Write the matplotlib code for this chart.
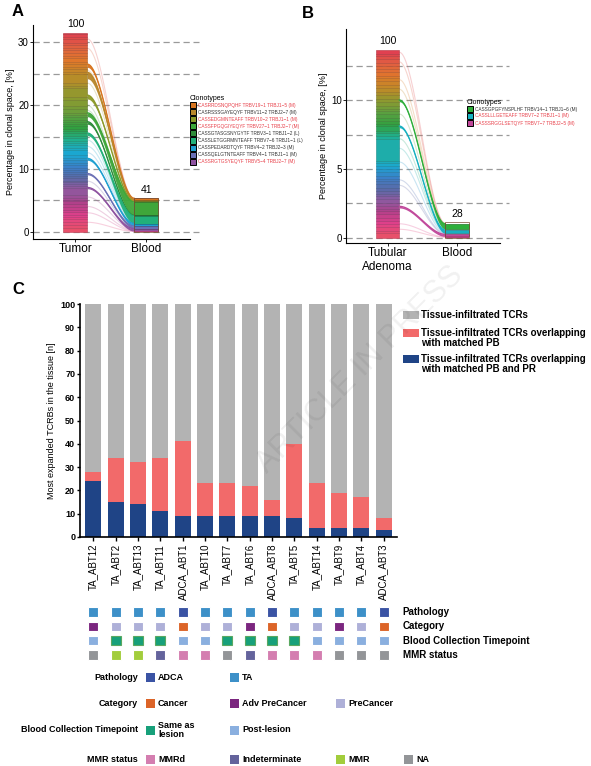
import numpy as np
import matplotlib
matplotlib.use("Agg")
import matplotlib.pyplot as plt
from matplotlib.patches import Rectangle
from matplotlib.colors import LinearSegmentedColormap

plt.rcParams['font.family'] = ['Liberation Sans', 'DejaVu Sans']

W, H = 591, 766
fig = plt.figure(figsize=(W/100, H/100), dpi=100)

def ax_px(l, t, r, b):
    return fig.add_axes([l/W, 1-b/H, (r-l)/W, (b-t)/H])

# ---------------- data ----------------
segA = [0.6,0.5,0.4,0.5,0.3,0.4,0.5,0.3,0.4,0.5,0.4,0.3,0.3,0.4,1.2,0.3,0.3,0.2,0.3,0.4,0.3,0.4,0.3,0.2,0.4,0.5,
        0.3,0.4,0.3,0.5,0.9,0.3,0.4,0.3,0.4,0.5,0.3,0.4,0.3,0.3,0.5,0.4,0.3,0.3,0.4,0.3,0.4,0.6,0.5,1.0,0.4,1.4,0.3,
        0.6,1.4,0.3,0.4,0.3,0.5,0.4,0.6,0.3,0.5,0.4,0.3,0.5,0.4,0.6,0.3,0.4,0.3]
bloodA_total = 5.3
cloneA_name = ["CASRRDSNQPQHF TRBV19\u22121 TRBJ1\u22125 (M)", "CASRSSSGAYEQYF TRBV11\u22122 TRBJ2\u22127 (M)",
               "CASSEDGMNTEAFF TRBV10\u22122 TRBJ1\u22121 (M)", "CASSFPGQGIYEQYF TRBV27\u22121 TRBJ2\u22127 (M)",
               "CASSGTASGSNYGYTF TRBV3\u22121 TRBJ1\u22122 (L)", "CASSLETGGRMNTEAFF TRBV7\u22126 TRBJ1\u22121 (L)",
               "CASSPEDARDTQYF TRBV4\u22122 TRBJ2\u22123 (M)", "CASSQELGTNTEAFF TRBV4\u22121 TRBJ1\u22121 (M)",
               "CASSRGTGSYEQYF TRBV5\u22124 TRBJ2\u22127 (M)"]
cloneA_red = [True, False, True, True, False, False, False, False, True]
cloneA_t0 = [26.0, 24.2, 21.0, 18.2, 17.0, 15.2, 11.3, 9.0, 6.8]
cloneA_th = [0.5, 1.0, 0.6, 0.6, 0.4, 0.4, 0.3, 0.2, 0.2]
cloneA_b0 = [5.1, 4.8, 4.7, 2.6, 2.5, 1.3, 0.9, 0.5, 0.1]
cloneA_bh = [0.2, 0.3, 0.1, 2.1, 0.1, 1.2, 0.4, 0.4, 0.4]
cloneA_col = ["#d8741f", "#b8862a", "#8c9a2a", "#3fa63a", "#2e8b3a", "#22b07a", "#1e9fd0", "#6a6fb5", "#8e52a0"]
faintA_t = [30.5, 29.0, 25.5, 23.5, 20.0, 19.2, 14.5, 13.5, 12.5, 8.0, 5.5, 4.0, 3.0, 1.5]
faintA_b = [5.25, 5.2, 5.0, 4.75, 3.5, 3.0, 2.0, 1.8, 1.5, 0.8, 0.3, 0.2, 0.1, 0.05]

segB = [0.3,0.2,0.3,0.2,0.2,0.2,0.3,0.2,0.2,0.2,0.2,0.3,0.2,0.2,0.2,0.2,0.3,0.2,0.2,0.2,0.3,0.2,0.2,0.2,0.2,
        1.6,0.2,0.2,0.2,0.3,0.2,0.2,0.2,0.3,0.2,0.2,0.2,0.3,0.2,0.3,0.2,0.3,0.2,0.3,0.2,0.2,0.3,0.2,0.2,0.2,0.3,0.2,0.2,0.3]
bloodB_total = 1.1
cloneB_name = ["CASSGPGFYNSPLHF TRBV14\u22121 TRBJ1\u22126 (M)", "CASSLLLGETEAFF TRBV7\u22122 TRBJ1\u22121 (M)",
               "CASSSRGGLSETQYF TRBV7\u22127 TRBJ2\u22125 (M)"]
cloneB_red = [False, True, True]
cloneB_t0 = [9.9, 8.0, 2.15]
cloneB_th = [0.12, 0.12, 0.12]
cloneB_b0 = [0.6, 0.3, 0.08]
cloneB_bh = [0.4, 0.25, 0.15]
cloneB_col = ["#2fae3a", "#17b0c0", "#c0479a"]
faintB_t = [13.5, 12.8, 11.5, 10.8, 9.0, 7.2, 6.5, 5.5, 4.2, 3.8, 1.0, 0.6]
faintB_b = [1.05, 1.0, 0.95, 0.9, 0.7, 0.5, 0.45, 0.35, 0.3, 0.25, 0.05, 0.02]

samples = ["TA_ABT12","TA_ABT2","TA_ABT13","TA_ABT11","ADCA_ABT1","TA_ABT10","TA_ABT7","TA_ABT6",
           "ADCA_ABT8","TA_ABT5","TA_ABT14","TA_ABT9","TA_ABT4","ADCA_ABT3"]
pb_pr = [24, 15, 14, 11, 9, 9, 9, 9, 9, 8, 4, 4, 4, 3]
pb_total = [28, 34, 32, 34, 41, 23, 23, 22, 16, 40, 23, 19, 17, 8]
pathology = ["TA","TA","TA","TA","ADCA","TA","TA","TA","ADCA","TA","TA","TA","TA","ADCA"]
category = ["Adv PreCancer","PreCancer","PreCancer","PreCancer","Cancer","PreCancer","PreCancer","Adv PreCancer",
            "Cancer","PreCancer","PreCancer","Adv PreCancer","PreCancer","Cancer"]
blood_tp = ["Post","Same","Same","Same","Post","Post","Same","Same","Same","Same","Post","Post","Post","Post"]
mmr = ["NA","MMR","MMR","Indeterminate","MMRd","MMRd","NA","Indeterminate","MMRd","MMRd","MMRd","NA","NA","NA"]

pal_path = {"ADCA": "#3a53a4", "TA": "#3d90c8"}
pal_cat = {"Cancer": "#dc6428", "Adv PreCancer": "#7b267f", "PreCancer": "#aeb0d8"}
pal_blood = {"Same": "#17a07a", "Post": "#8aafdf"}
pal_mmr = {"MMRd": "#d47eb0", "Indeterminate": "#64639c", "MMR": "#a2cd3c", "NA": "#939598"}

cmap = LinearSegmentedColormap.from_list("clon", ["#e8506a", "#e0408a", "#b0408a", "#8c5aa0", "#5a6aa8", "#3a80c8",
                                                 "#1aa8d0", "#20b090", "#30a040", "#5aa040", "#8a9a30", "#c08a28",
                                                 "#e0782a", "#e06040", "#e04050"])

def smooth(n=60):
    s = np.linspace(0, 1, n)
    return s, s*s*(3-2*s)

def alluvial(ax, seg, blood_total, t0s, ths, b0s, bhs, cols, ft, fb, gridvals, ticks, ymax, lab1, top1, top2):
    bw = 0.34
    for g in gridvals:
        ax.plot([-0.6, 1.75], [g, g], ls=(0, (5, 3)), color="#9a9a9a", lw=0.9, zorder=0, clip_on=False)
    total = sum(seg)
    b = 0
    n = len(seg)
    for i, h in enumerate(seg):
        c = cmap(i/(n-1))
        ax.add_patch(Rectangle((-bw/2, b), bw, h, facecolor=c, edgecolor=tuple(np.array(c[:3])*0.8), lw=0.4, zorder=2))
        b += h
    s, f = smooth()
    xs = bw/2 + s*(1-bw)
    for t, bb in zip(ft, fb):
        c = cmap(t/total)
        ax.plot(xs, t + (bb-t)*f, color=c, alpha=0.25, lw=0.8, zorder=1)
    for t0, th, b0, bh, c in zip(t0s, ths, b0s, bhs, cols):
        lo = t0 + (b0-t0)*f
        hi = (t0+th) + (b0+bh-t0-th)*f
        ax.fill_between(xs, lo, hi, color=c, alpha=0.95, lw=0, zorder=3)
        ax.plot(xs, hi, color=c, lw=1.0, zorder=3)
        ax.add_patch(Rectangle((1-bw/2, b0), bw, bh, facecolor=c,
                               edgecolor=tuple(np.array(matplotlib.colors.to_rgb(c))*0.7), lw=0.5, zorder=4))
    ax.add_patch(Rectangle((1-bw/2, 0), bw, blood_total, facecolor="none", edgecolor="#7a4a30", lw=0.5, zorder=5))
    ax.add_patch(Rectangle((1-bw/2, 0), bw, min(b0s), facecolor="#b0407a", lw=0, zorder=4))
    ax.text(0, total + ymax*0.015, top1, ha="center", va="bottom", fontsize=7.5)
    ax.text(1, blood_total + ymax*0.015, top2, ha="center", va="bottom", fontsize=7.5)
    ax.set_xlim(-0.6, 1.62)
    ax.set_ylim(-ymax*0.035, ymax)
    ax.set_yticks(ticks)
    ax.set_yticklabels([str(t) for t in ticks], fontsize=7)
    ax.set_xticks([0, 1])
    ax.set_xticklabels(lab1, fontsize=8.5)
    for sp in ["top", "right"]:
        ax.spines[sp].set_visible(False)
    ax.tick_params(length=2, width=0.6, pad=1)
    ax.set_ylabel("Percentage in clonal space, [%]", fontsize=6.5, labelpad=2)

axA = ax_px(33, 25, 190, 239)
alluvial(axA, segA, bloodA_total, cloneA_t0, cloneA_th, cloneA_b0, cloneA_bh, cloneA_col, faintA_t, faintA_b,
         [0, 5, 10, 15, 20, 25, 30], [0, 10, 20, 30], 32.7, ["Tumor", "Blood"], "100", "41")
axB = ax_px(346, 29, 500, 243)
alluvial(axB, segB, bloodB_total, cloneB_t0, cloneB_th, cloneB_b0, cloneB_bh, cloneB_col, faintB_t, faintB_b,
         [0, 2.5, 5, 7.5, 10, 12.5], [0, 5, 10], 15.0, ["Tubular\nAdenoma", "Blood"], "100", "28")
axB.set_ylim(-0.4, 15.2)

def clon_legend(x, y, names, reds, cols, dy=7.1):
    fig.text(x/W, 1-y/H, "Clonotypes", fontsize=5, va="center")
    for i, (nm, r, c) in enumerate(zip(names, reds, cols)):
        yy = y + 7 + i*dy
        fig.patches.append(Rectangle((x/W, 1-(yy+3)/H), 6/W, 6/H, transform=fig.transFigure,
                                     facecolor=c, edgecolor="black", lw=0.7))
        fig.text((x+8)/W, 1-yy/H, nm, fontsize=3.4, va="center", color="#e8404a" if r else "#333333")

clon_legend(190, 98, cloneA_name, cloneA_red, cloneA_col)
clon_legend(467, 102, cloneB_name, cloneB_red, cloneB_col, dy=7.0)

fig.text(12/W, 1-12/H, "A", fontsize=12, fontweight="bold", va="center")
fig.text(302/W, 1-14/H, "B", fontsize=12, fontweight="bold", va="center")
fig.text(12/W, 1-290/H, "C", fontsize=12, fontweight="bold", va="center")

axC = ax_px(80, 304, 397, 537)
x = np.arange(len(samples))
red_part = [t - p for t, p in zip(pb_total, pb_pr)]
gray_part = [100 - t for t in pb_total]
axC.bar(x, pb_pr, width=0.72, color="#1f4486")
axC.bar(x, red_part, bottom=pb_pr, width=0.72, color="#f26a6a")
axC.bar(x, gray_part, bottom=pb_total, width=0.72, color="#b3b3b3")
axC.set_xlim(-0.6, len(samples)-0.4)
axC.set_ylim(0, 100)
axC.set_yticks(range(0, 101, 10))
axC.tick_params(axis="y", labelsize=6.5, length=2.5, width=1, pad=1)
axC.tick_params(axis="x", length=3, width=1, pad=2)
for lab in axC.get_yticklabels():
    lab.set_fontweight("bold")
axC.set_xticks(x)
axC.set_xticklabels(samples, rotation=90, fontsize=7)
for sp in ["top", "right"]:
    axC.spines[sp].set_visible(False)
for sp in ["left", "bottom"]:
    axC.spines[sp].set_linewidth(1.2)
axC.set_ylabel("Most expanded TCRBs in the tissue [n]", fontsize=6.5, labelpad=3)

leg = [("#b3b3b3", "Tissue-infiltrated TCRs", 315), ("#f26a6a", "Tissue-infiltrated TCRs overlapping\nwith matched PB", 338),
       ("#1f4486", "Tissue-infiltrated TCRs overlapping\nwith matched PB and PR", 364)]
for c, t, yy in leg:
    top_y = yy - (5 if "\n" in t else 0)
    fig.patches.append(Rectangle((403/W, 1-(top_y+4)/H), 16/W, 8/H, transform=fig.transFigure, facecolor=c, lw=0))
    fig.text(421/W, 1-yy/H, t, fontsize=7, fontweight="bold", va="center", linespacing=1.1)

axH = ax_px(80, 605, 397, 662)
axH.set_xlim(-0.6, len(samples)-0.4)
axH.set_ylim(3.5, -0.5)
axH.axis("off")
rows = [(pathology, pal_path, "Pathology"), (category, pal_cat, "Category"),
        (blood_tp, pal_blood, "Blood Collection Timepoint"), (mmr, pal_mmr, "MMR status")]
for r, (vals, pal, name) in enumerate(rows):
    for i, v in enumerate(vals):
        c = pal[v]
        ec = "#5aa860" if (pal is pal_blood and v == "Same") else "white"
        axH.add_patch(Rectangle((i-0.22, r-0.34), 0.44, 0.68, facecolor=c, edgecolor=ec, lw=0.8))
    axH.text(len(samples)-0.15, r, name, fontsize=7, fontweight="bold", va="center")

def sw(xp, yp, c):
    fig.patches.append(Rectangle((xp/W, 1-(yp+4.5)/H), 9/W, 9/H, transform=fig.transFigure, facecolor=c, lw=0))

legrows = [("Pathology", 677, [("ADCA", pal_path["ADCA"]), ("TA", pal_path["TA"])]),
           ("Category", 703, [("Cancer", pal_cat["Cancer"]), ("Adv PreCancer", pal_cat["Adv PreCancer"]), ("PreCancer", pal_cat["PreCancer"])]),
           ("Blood Collection Timepoint", 730, [("Same as\nlesion", pal_blood["Same"]), ("Post-lesion", pal_blood["Post"])]),
           ("MMR status", 759, [("MMRd", pal_mmr["MMRd"]), ("Indeterminate", pal_mmr["Indeterminate"]), ("MMR", pal_mmr["MMR"]), ("NA", pal_mmr["NA"])])]
colx = [146, 230, 336, 404]
for name, yy, items in legrows:
    fig.text(138/W, 1-yy/H, name, fontsize=6.5, fontweight="bold", ha="right", va="center")
    for j, (lab, c) in enumerate(items):
        sw(colx[j], yy, c)
        fig.text((colx[j]+12)/W, 1-yy/H, lab, fontsize=6.5, fontweight="bold", va="center", linespacing=1.1)

fig.text(360/W, 1-370/H, "ARTICLE IN PRESS", fontsize=22, color="#000000", alpha=0.06, rotation=45,
         ha="center", va="center")

fig.savefig("out.png", dpi=100)
